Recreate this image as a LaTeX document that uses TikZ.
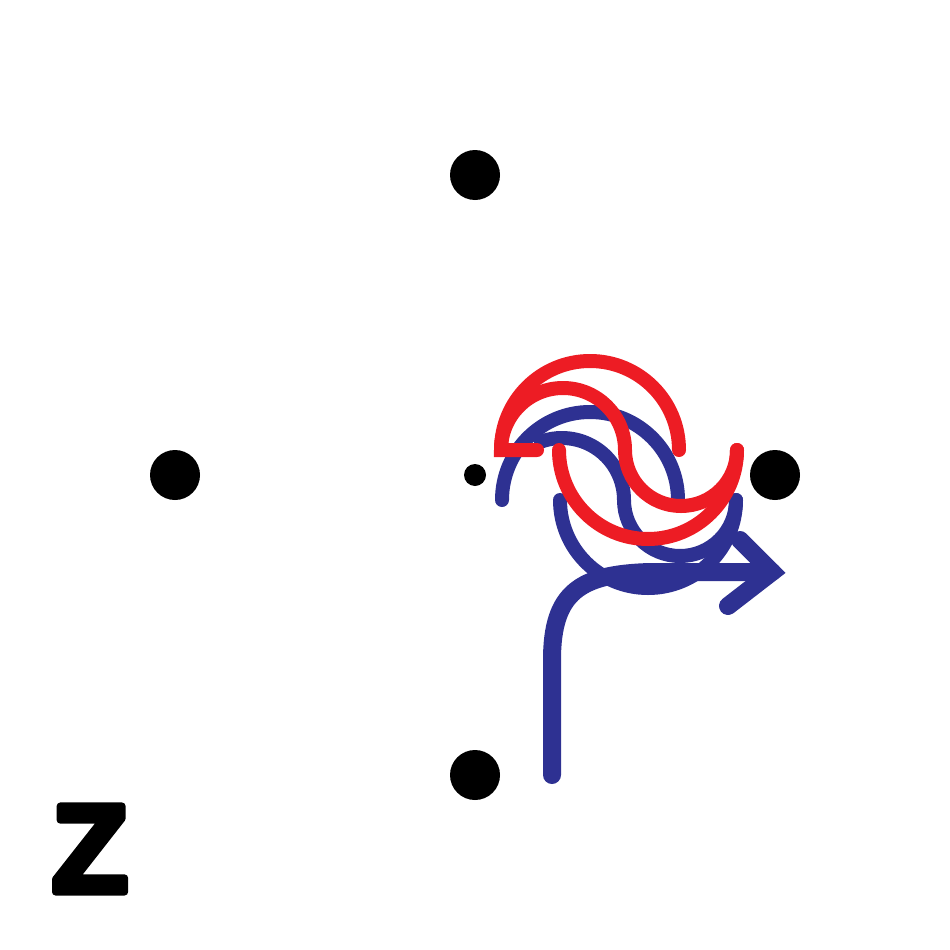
\documentclass[tikz,border=0pt]{standalone}
\usepackage{fontspec}
\setmainfont{Liberation Sans}
\usetikzlibrary{calc}
\definecolor{myred}{HTML}{ED1C24}
\definecolor{myblue}{HTML}{2E3192}
\begin{document}
\begin{tikzpicture}[x=1pt,y=-1pt,
  dot/.style={circle,fill=black,inner sep=0pt,minimum size=50pt},
  smalldot/.style={circle,fill=black,inner sep=0pt,minimum size=22pt},
  redline/.style={draw=myred,line width=14pt,line cap=round},
  blueline/.style={draw=myblue,line width=14pt,line cap=round},
  arrowline/.style={draw=myblue,line width=18pt,line cap=round,line join=miter}]
\useasboundingbox (0,0) rectangle (950,950);
\node[dot] (top) at (475,175) {};
\node[dot] (left) at (175,475) {};
\node[dot] (right) at (775,475) {};
\node[dot] (bottom) at (475,775) {};
\node[smalldot] (center) at (475,475) {};
\node[font=\bfseries\fontsize{125}{125}\selectfont,inner sep=0pt] (z) at (90,849)
  {\special{pdf:literal direct 2 Tr 1 j 1 J 7 w}Z\special{pdf:literal direct 0 Tr}};
% blue arrow
\coordinate (a0) at (552,775);
\coordinate (a1) at (552,660);
\coordinate (a2) at (650,572);
\coordinate (tip) at (772,572);
\coordinate (armu) at (740,540);
\coordinate (arml) at (728,606);
\draw[arrowline] (a0) -- (a1) .. controls (552,592) and (580,574) .. (a2) -- (tip);
\draw[arrowline] (armu) -- (tip) -- (arml);
% blue shape
\draw[blueline] (502,500) arc[start angle=180,end angle=360,radius=88];
\draw[blueline] (560,500) arc[start angle=180,end angle=0,radius=88];
\draw[blueline] ($(562,500)+(250:62)$) arc[start angle=250,end angle=360,radius=62]
  arc[start angle=180,end angle=0,radius=56];
% red shape
\draw[redline] (501,450) arc[start angle=180,end angle=360,radius=89];
\draw[redline] (559,450) arc[start angle=180,end angle=0,radius=89];
\draw[redline] (537,450) -- (501,450) arc[start angle=180,end angle=360,radius=62]
  arc[start angle=180,end angle=0,radius=56];
\end{tikzpicture}
\end{document}
